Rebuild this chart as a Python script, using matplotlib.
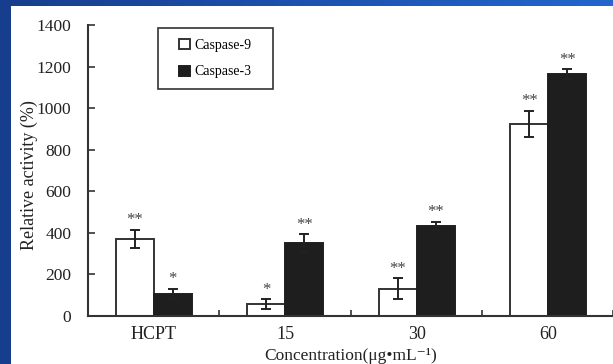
import numpy as np
import matplotlib
matplotlib.use("Agg")
import matplotlib.pyplot as plt
from matplotlib.colors import LinearSegmentedColormap
from matplotlib.patches import Rectangle

plt.rcParams["font.family"] = ["Liberation Serif", "DejaVu Serif"]

# data
groups = ["HCPT", "15", "30", "60"]
casp9 = [370, 58, 131, 924]
casp9_err = [45, 24, 50, 64]
casp9_sig = ["**", "*", "**", "**"]
casp3 = [107, 350, 434, 1163]
casp3_err = [25, 43, 20, 24]
casp3_sig = ["*", "**", "**", "**"]

W, H = 613, 364
fig = plt.figure(figsize=(W / 100, H / 100), dpi=100)

# slide background: blue gradient with white panel
bg = fig.add_axes([0, 0, 1, 1], zorder=-10)
cmap = LinearSegmentedColormap.from_list("slide", ["#173e8c", "#1d52b0", "#2366cc"])
bg.imshow(np.linspace(0, 1, 256)[None, :], aspect="auto", cmap=cmap,
          extent=[0, 1, 0, 1], transform=bg.transAxes)
bg.add_patch(Rectangle((11 / W, 0), 1, (H - 6) / H, transform=bg.transAxes,
                       facecolor="white", edgecolor="none"))
bg.set_xlim(0, 1)
bg.set_ylim(0, 1)
bg.axis("off")

ax = fig.add_axes([88 / W, 48 / H, 526 / W, 291 / H])
ax.patch.set_alpha(0)

x = np.arange(len(groups))
bw = 0.29
ekw = dict(ecolor="#222222", elinewidth=1.4, capsize=3.5, capthick=1.4)
b9 = ax.bar(x - bw / 2, casp9, bw, yerr=casp9_err, color="white",
            edgecolor="#333333", linewidth=1.4, error_kw=ekw, label="Caspase-9")
b3 = ax.bar(x + bw / 2, casp3, bw, yerr=casp3_err, color="#1e1e1e",
            edgecolor="#1e1e1e", linewidth=1.4, error_kw=ekw, label="Caspase-3")

for xi, v, e, s in zip(x - bw / 2, casp9, casp9_err, casp9_sig):
    ax.annotate(s, (xi, v + e), xytext=(0, 1), textcoords="offset points",
                ha="center", va="bottom", fontsize=12, color="#444444")
for xi, v, e, s in zip(x + bw / 2, casp3, casp3_err, casp3_sig):
    ax.annotate(s, (xi, v + e), xytext=(0, 1), textcoords="offset points",
                ha="center", va="bottom", fontsize=12, color="#444444")

ax.set_xlim(-0.5, 3.5)
ax.set_ylim(0, 1400)
ax.set_yticks(range(0, 1401, 200))
ax.set_xticks(x)
ax.set_xticklabels(groups)
ax.set_xticks(list(x[:-1] + 0.5) + [3.49], minor=True)
ax.tick_params(axis="x", which="major", length=0, pad=7, labelsize=13, colors="#222222")
ax.tick_params(axis="x", which="minor", direction="in", length=4, width=1.2, color="#333333")
ax.tick_params(axis="y", direction="in", length=5, width=1.2, pad=12, labelsize=12.5,
               color="#333333", labelcolor="#222222")

for side in ["top", "right"]:
    ax.spines[side].set_visible(False)
for side in ["left", "bottom"]:
    ax.spines[side].set_linewidth(1.5)
    ax.spines[side].set_color("#333333")

ax.set_ylabel("Relative activity (%)", fontsize=13, color="#222222", va="center")
ax.yaxis.set_label_coords(-59 / 526, 0.485)
ax.set_xlabel("Concentration(μg•mL⁻¹)", fontsize=12.5, color="#222222")
ax.xaxis.label.set_va("bottom")
ax.xaxis.set_label_coords(0.5, -47.5 / 291)

# legend in a drawn box
fig.patches.append(Rectangle((158 / W, 1 - 89 / H), 115 / W, 61 / H,
                             transform=fig.transFigure, facecolor="white",
                             edgecolor="#333333", linewidth=1.2))
leg = fig.legend(handles=[b9, b3], loc="center",
                 bbox_to_anchor=(215.5 / W, 1 - 58.5 / H), fontsize=10,
                 frameon=False, handlelength=0.75, handleheight=0.75,
                 handletextpad=0.35, borderpad=0, labelspacing=1.0)

fig.savefig("out.png", dpi=100)
